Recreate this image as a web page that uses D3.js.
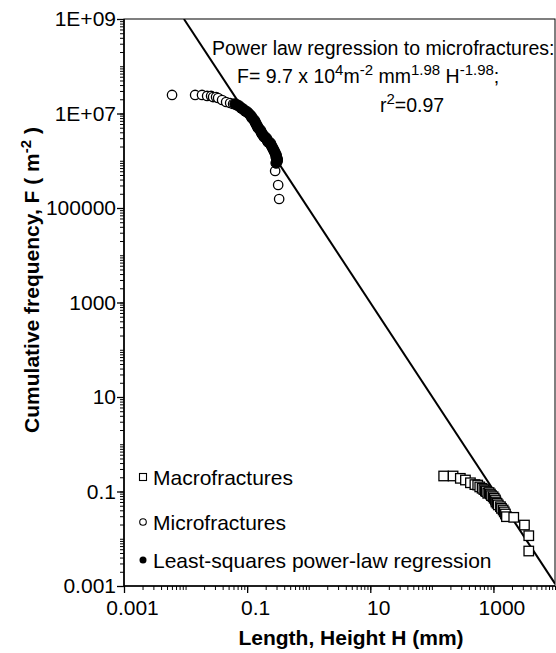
<!DOCTYPE html>
<html><head><meta charset="utf-8">
<script src="https://cdn.jsdelivr.net/npm/d3@7"></script>
<style>
body{margin:0;background:#fff}
svg{display:block}
text{font-family:"Liberation Sans",Arial,Helvetica,sans-serif;fill:#000}
</style>
</head><body>
<svg id="chart" width="556" height="653"></svg>
<script>
// ---------- DATA ----------
// Microfractures (open circles): length/height H (mm), cumulative frequency F (m^-2)
const microH = [0.00603,0.0143,0.0185,0.0224,0.0260,0.0280,0.0313,0.0338,0.0392,0.0456,0.0530,0.0592,0.285,0.319,0.331];
const microF = [2.47e7,2.47e7,2.47e7,2.35e7,2.35e7,2.23e7,2.23e7,2.13e7,1.93e7,1.75e7,1.67e7,1.59e7,6.07e5,3.07e5,1.55e5];
// Points used in least-squares power-law regression (filled circles)
const regH = [0.0638,0.0687,0.0741,0.0798,0.0861,0.0927,0.100,0.108,0.116,0.120,0.130,0.135,0.140,0.146,0.151,0.163,0.169,0.175,0.182,0.189,0.204,0.211,0.219,0.237,0.245,0.255,0.265,0.275,0.285,0.296,0.296,0.308,0.308,0.296];
const regF = [1.59e7,1.51e7,1.44e7,1.31e7,1.24e7,1.13e7,1.08e7,9.76e6,8.85e6,8.04e6,7.28e6,6.61e6,6.00e6,5.43e6,4.93e6,4.48e6,4.06e6,3.68e6,3.51e6,3.18e6,3.03e6,2.75e6,2.49e6,2.38e6,2.15e6,1.95e6,1.77e6,1.61e6,1.46e6,1.32e6,1.20e6,1.09e6,9.88e5,8.96e5];
// Macrofractures (open squares)
const macroH = [155.6,221,290,351,423,500,556,600,655,700,741,760,808,850,893,930,988,1030,1078,1100,1148,1200,1300,1350,1438,1500,1567,1626,2138,3191,3750,3750];
const macroF = [0.213,0.213,0.190,0.175,0.153,0.140,0.137,0.125,0.117,0.110,0.104,0.100,0.0916,0.095,0.0885,0.082,0.0776,0.072,0.0661,0.060,0.0562,0.052,0.0477,0.044,0.0406,0.037,0.0334,0.0293,0.0284,0.0195,0.0116,0.0055];
// Power-law fit line endpoints
const fitH = [0.0094, 10000];
const fitF = [1e9, 0.00112];
// Axis ticks
const xTickValues = [0.001, 0.1, 10, 1000];
const xTickLabels = ["0.001", "0.1", "10", "1000"];
const yTickValues = [0.001, 0.1, 10, 1000, 1e5, 1e7, 1e9];
const yTickLabels = ["0.001", "0.1", "10", "1000", "100000", "1E+07", "1E+09"];
const legendLabels = ["Macrofractures", "Microfractures", "Least-squares power-law regression"];

// ---------- CHART ----------
const svg = d3.select("#chart");
const L = 124, R = 555, T = 19, B = 586;
const x = d3.scaleLog().domain([0.001, 10000]).range([L, R]);
const y = d3.scaleLog().domain([0.001, 1e9]).range([B, T]);

function minorTicks(dom) {
  const out = [];
  const e0 = Math.round(Math.log10(dom[0])), e1 = Math.round(Math.log10(dom[1]));
  for (let e = e0; e < e1; e++) for (let k = 1; k <= 9; k++) out.push(k * Math.pow(10, e));
  out.push(Math.pow(10, e1));
  return out;
}

// minor ticks
svg.append("g").attr("transform", `translate(0,${B})`)
  .call(d3.axisBottom(x).tickValues(minorTicks(x.domain())).tickSize(4).tickFormat(""))
  .call(g => g.select(".domain").remove())
  .call(g => g.selectAll("line").attr("stroke", "#000").attr("stroke-width", 1));
svg.append("g").attr("transform", `translate(${L},0)`)
  .call(d3.axisLeft(y).tickValues(minorTicks(y.domain())).tickSize(4).tickFormat(""))
  .call(g => g.select(".domain").remove())
  .call(g => g.selectAll("line").attr("stroke", "#000").attr("stroke-width", 1));

// major ticks & labels
const xAxis = svg.append("g").attr("transform", `translate(0,${B})`)
  .call(d3.axisBottom(x).tickValues(xTickValues).tickSize(7).tickPadding(7)
    .tickFormat((d, i) => xTickLabels[i]));
xAxis.select(".domain").remove();
xAxis.selectAll("line").attr("stroke", "#000").attr("stroke-width", 1.3);
xAxis.selectAll("text").attr("font-size", 21).attr("font-family", null).attr("fill", "#000").attr("dx", 8);

const yAxis = svg.append("g").attr("transform", `translate(${L},0)`)
  .call(d3.axisLeft(y).tickValues(yTickValues).tickSize(7).tickPadding(1)
    .tickFormat((d, i) => yTickLabels[i]));
yAxis.select(".domain").remove();
yAxis.selectAll("line").attr("stroke", "#000").attr("stroke-width", 1.3);
yAxis.selectAll("text").attr("font-size", 21).attr("font-family", null).attr("fill", "#000");

// frame
svg.append("rect").attr("x", L).attr("y", T).attr("width", R - L).attr("height", B - T)
  .attr("fill", "none").attr("stroke", "#000").attr("stroke-width", 1);
svg.append("line").attr("x1", L).attr("x2", L).attr("y1", T).attr("y2", B).attr("stroke", "#000").attr("stroke-width", 1.6);
svg.append("line").attr("x1", L).attr("x2", R).attr("y1", B).attr("y2", B).attr("stroke", "#000").attr("stroke-width", 1.6);

// clip
svg.append("clipPath").attr("id", "clip").append("rect")
  .attr("x", L).attr("y", T).attr("width", R - L).attr("height", B - T);
const plot = svg.append("g").attr("clip-path", "url(#clip)");

// fit line
plot.append("path")
  .datum(fitH.map((h, i) => [h, fitF[i]]))
  .attr("d", d3.line().x(d => x(d[0])).y(d => y(d[1])))
  .attr("fill", "none").attr("stroke", "#000").attr("stroke-width", 2);

// microfractures open circles
plot.append("g").selectAll("circle")
  .data(microH.map((h, i) => [h, microF[i]]))
  .join("circle")
  .attr("cx", d => x(d[0])).attr("cy", d => y(d[1])).attr("r", 4.7)
  .attr("fill", "#fff").attr("stroke", "#000").attr("stroke-width", 1.3);

// regression points filled
plot.append("g").selectAll("circle")
  .data(regH.map((h, i) => [h, regF[i]]))
  .join("circle")
  .attr("cx", d => x(d[0])).attr("cy", d => y(d[1])).attr("r", 5.3)
  .attr("fill", "#000").attr("stroke", "#000").attr("stroke-width", 1);

// macrofractures open squares
const sq = 9.5;
plot.append("g").selectAll("rect")
  .data(macroH.map((h, i) => [h, macroF[i]]))
  .join("rect")
  .attr("x", d => x(d[0]) - sq / 2).attr("y", d => y(d[1]) - sq / 2)
  .attr("width", sq).attr("height", sq)
  .attr("fill", "#fff").attr("stroke", "#000").attr("stroke-width", 1.3);

// axis titles
svg.append("text").attr("x", 351).attr("y", 645).attr("text-anchor", "middle")
  .attr("font-size", 21).attr("font-weight", "bold").text("Length, Height H (mm)");
const yt = svg.append("text").attr("transform", "translate(39,280) rotate(-90)")
  .attr("text-anchor", "middle").attr("font-size", 21).attr("font-weight", "bold");
yt.append("tspan").text("Cumulative frequency, F ( m");
yt.append("tspan").attr("font-size", 15).attr("dy", -8).text("-2");
yt.append("tspan").attr("dy", 8).text(" )");

// annotation
svg.append("text").attr("x", 212).attr("y", 55).attr("font-size", 19.5)
  .text("Power law regression to microfractures:");
const eq = svg.append("text").attr("x", 237).attr("y", 83).attr("font-size", 19.5);
const parts = [["F= 9.7 x 10", 0], ["4", 1], ["m", 0], ["-2", 1], [" mm", 0], ["1.98", 1], [" H", 0], ["-1.98", 1], [";", 0]];
let up = false;
parts.forEach(([t, s]) => {
  const ts = eq.append("tspan").text(t);
  if (s && !up) { ts.attr("dy", -8).attr("font-size", 15); up = true; }
  else if (s) { ts.attr("font-size", 15); }
  else if (!s && up) { ts.attr("dy", 8); up = false; }
});
const r2 = svg.append("text").attr("x", 380).attr("y", 112).attr("font-size", 19.5);
r2.append("tspan").text("r");
r2.append("tspan").attr("dy", -8).attr("font-size", 15).text("2");
r2.append("tspan").attr("dy", 8).text("=0.97");

// legend
const lg = svg.append("g");
const ly = [477, 522, 560];
lg.append("rect").attr("x", 143 - 3.5).attr("y", ly[0] - 3.5).attr("width", 7).attr("height", 7)
  .attr("fill", "#fff").attr("stroke", "#000").attr("stroke-width", 1.1);
lg.append("circle").attr("cx", 143).attr("cy", ly[1]).attr("r", 3.3)
  .attr("fill", "#fff").attr("stroke", "#000").attr("stroke-width", 1.1);
lg.append("circle").attr("cx", 143).attr("cy", ly[2]).attr("r", 3.5).attr("fill", "#000");
legendLabels.forEach((t, i) => {
  lg.append("text").attr("x", 153).attr("y", ly[i] + 7.5).attr("font-size", 21).text(t);
});
</script>
</body></html>
